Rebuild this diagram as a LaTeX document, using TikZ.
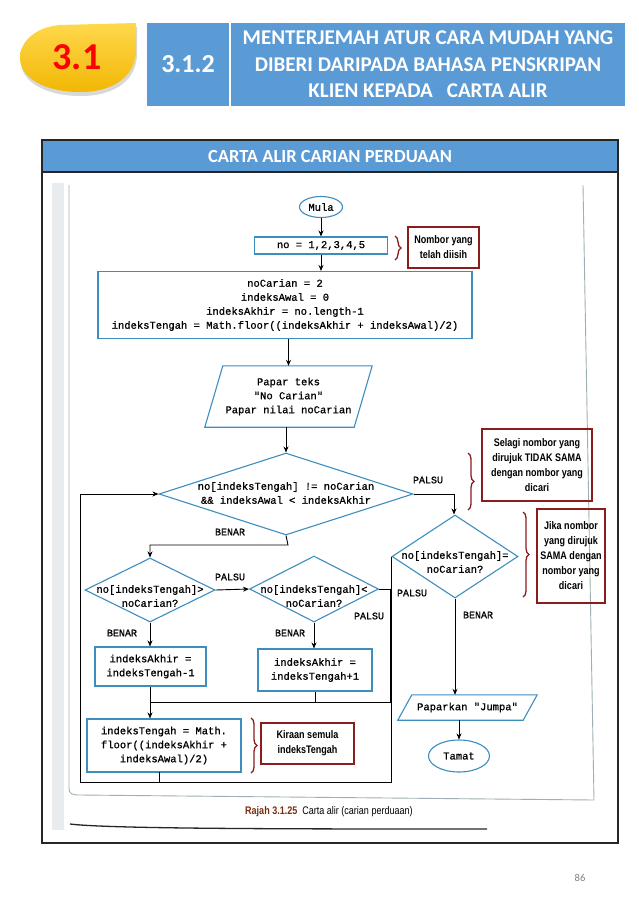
\documentclass[tikz,border=0pt]{standalone}
\usepackage{fontspec}
\setmainfont{Carlito}
\newfontfamily\mono[FakeBold=0.9]{Liberation Mono}
\newfontfamily\cond[FakeStretch=0.82]{Liberation Sans}
\usetikzlibrary{shapes.geometric,arrows.meta,decorations.pathreplacing,calc}
\definecolor{hdrblue}{HTML}{5B9BD5}
\definecolor{fcblue}{HTML}{3E8DBF}
\definecolor{annred}{HTML}{8B1C1C}
\definecolor{capred}{HTML}{7A2E10}
\definecolor{scangray}{HTML}{9FB0B5}
\definecolor{stripgray}{HTML}{E8ECEF}
\definecolor{droptop}{HTML}{FFD84C}
\definecolor{dropbot}{HTML}{F2B705}
\begin{document}
\begin{tikzpicture}[x=1pt,y=-1pt,
  fcline/.style={draw=fcblue, line width=1.1pt},
  mtext/.style={font=\mono\fontsize{10.5}{14}\selectfont},
  proc/.style={fcline, rectangle, inner sep=0pt, align=center, mtext},
  term/.style={fcline, ellipse, inner sep=0pt, mtext},
  dec/.style={fcline, diamond, inner sep=0pt, aspect=1},
  ftext/.style={align=center, inner sep=0pt, mtext},
  lbl/.style={inner sep=0pt, font=\mono\fontsize{10}{11}\selectfont},
  conn/.style={draw=black, line width=0.9pt},
  arr/.style={conn, -{Stealth[length=6pt,width=5pt]}},
  ann/.style={draw=annred, line width=2.4pt, inner sep=0pt, align=center, font=\cond\bfseries\fontsize{11}{15}\selectfont},
  brc/.style={draw=annred, line width=1.3pt, decorate, decoration={brace, amplitude=6pt}},
  hdrbox/.style={fill=hdrblue, inner sep=0pt, text=white, align=center}
]
\path[use as bounding box] (0,0) rectangle (638,922);
\fill[white] (0,0) rectangle (638,922);

% ---------- header ----------
\def\droppath{(136,23) -- (60,25) .. controls (35,27) and (20,42) .. (20,58) .. controls (20,78) and (45,92) .. (80,92) .. controls (115,92) and (136,75) .. (136,50) -- cycle}
\fill[gray, opacity=0.3] [shift={(1,4)}] \droppath;
\shade[top color=droptop, bottom color=dropbot] \droppath;
\node[text=red, font=\bfseries\fontsize{38}{38}\selectfont, inner sep=0pt] (sec) at (77,57) {3.1};
\node[hdrbox, minimum width=82, minimum height=83, font=\bfseries\fontsize{26}{26}\selectfont] (num) at (188,64.5) {3.1.2};
\node[hdrbox, minimum width=394, minimum height=83, font=\bfseries\fontsize{21}{26.5}\selectfont] (title) at (428,64.5)
  {MENTERJEMAH ATUR CARA MUDAH YANG\\DIBERI DARIPADA BAHASA PENSKRIPAN\\KLIEN KEPADA\hspace{14pt}CARTA ALIR};

% ---------- content frame ----------
\fill[hdrblue] (42,140) rectangle (618,172);
\draw[line width=1.2pt, draw=black!85] (42,172) -- (618,172);
\draw[line width=1.2pt, draw=black!85] (42,140) rectangle (618,843);
\node[text=white, font=\bfseries\fontsize{18.5}{18.5}\selectfont, inner sep=0pt] (ctitle) at (330,156) {CARTA ALIR CARIAN PERDUAAN};

% scanned page traces
\fill[stripgray] (52,183) rectangle (64,830);
\draw[scangray, line width=0.9pt] (69,185) -- (69,788) .. controls (69,794) and (72,795) .. (80,795) -- (594,800) -- (583,185);
\draw[black!85, line width=1.3pt] (70,824) .. controls (110,829) and (300,829) .. (487,829);

% ---------- flowchart ----------
\node[term, minimum width=43, minimum height=21] (mula) at (321,207) {Mula};
\node[proc, minimum width=133, minimum height=17] (no) at (321,245.5) {no = 1,2,3,4,5};
\node[proc, minimum width=374, minimum height=67] (init) at (285,305)
  {noCarian = 2\\indeksAwal = 0\\indeksAkhir = no.length-1\\indeksTengah = Math.floor((indeksAkhir + indeksAwal)/2)};
\node[ftext, minimum width=167, minimum height=61] (p1) at (288.5,396.5) {Papar teks\\"No Carian"\\Papar nilai noCarian};
\draw[fcline] ($(p1.north west)+(18,0)$) -- (p1.north east) -- ($(p1.south east)-(18,0)$) -- (p1.south west) -- cycle;

\node[dec, minimum width=254, minimum height=82] (d1) at (286,494) {};
\node[ftext] (d1t) at (286,493) {no[indeksTengah] != noCarian\\\&\& indeksAwal < indeksAkhir};

\node[dec, minimum width=130, minimum height=64] (d2) at (150,590) {};
\node[ftext] (d2t) at (150,596) {no[indeksTengah]>\\noCarian?};
\node[dec, minimum width=129, minimum height=66] (d4) at (314,589) {};
\node[ftext] (d4t) at (314,596) {no[indeksTengah]<\\noCarian?};

\node[proc, minimum width=111, minimum height=39] (b1) at (150.5,666.5) {indeksAkhir =\\indeksTengah-1};
\node[proc, minimum width=114, minimum height=42] (b2) at (315,670) {indeksAkhir =\\indeksTengah+1};
\node[proc, minimum width=154, minimum height=53] (b3) at (164,745.5) {indeksTengah = Math.\\floor((indeksAkhir +\\indeksAwal)/2)};

\node[dec, minimum width=126, minimum height=83] (d3) at (455,556.5) {};
\node[ftext] (d3t) at (455,562) {no[indeksTengah]=\\noCarian?};

\node[ftext, minimum width=139, minimum height=25] (p2) at (467.5,707.5) {Paparkan "Jumpa"};
\draw[fcline] ($(p2.north west)+(14,0)$) -- (p2.north east) -- ($(p2.south east)-(14,0)$) -- (p2.south west) -- cycle;
\node[term, minimum width=61, minimum height=32] (tamat) at (459,756) {Tamat};

% connectors
\draw[arr] (mula) -- (no);
\draw[arr] (no.south) -- (no.south |- init.north);
\draw[arr] (init.south -| p1.north) -- (p1.north);
\draw[arr] (p1.south -| d1.north) -- (d1.north);
\coordinate (bj) at (288,545);
\draw[arr] (d1.south) -- (bj) -- (bj -| d2.north) -- (d2.north);
\draw[arr] (d2.east) -- (d4.west);
\draw[arr] (d2.south) -- (b1.north -| d2.south);
\draw[arr] (d4.south) -- (d4.south |- b2.north);
\coordinate (mR) at (390,702);
\coordinate (mL) at (150,702);
\draw[conn] (d4.east) -- (d4.east -| mR) -- (mR) -- (mL);
\draw[conn] (b1.south -| mL) -- (mL);
\draw[conn] (b2.south) -- (b2.south |- mR);
\draw[arr] (mL) -- (mL |- b3.north);
\coordinate (d1r) at (454,494);
\draw[arr] (d1.east) -- (d1r) -- (d1r |- d3.north);
\coordinate (loopBL) at (80,782);
\draw[arr] (d3.west) -- (d3.west |- loopBL) -- (loopBL) -- (loopBL |- d1.west) -- (d1.west);
\draw[conn] (159,772) -- (159,782);
\draw[arr] (d3.south) -- (d3.south |- p2.north);
\draw[arr] (tamat.north |- p2.south) -- (tamat.north);

% labels
\node[lbl] (l1) at (230,532) {BENAR};
\node[lbl] (l2) at (428,480) {PALSU};
\node[lbl] (l3) at (230,577) {PALSU};
\node[lbl] (l4) at (369,616) {PALSU};
\node[lbl] (l5) at (122,633) {BENAR};
\node[lbl] (l6) at (290,633) {BENAR};
\node[lbl] (l7) at (412,593) {PALSU};
\node[lbl] (l8) at (478,615) {BENAR};

% annotations
\node[ann, minimum width=71, minimum height=41] (a1) at (443.5,247.5) {Nombor yang\\telah diisih};
\draw[brc] (395,236) -- (395,260);
\node[ann, minimum width=110, minimum height=72] (a2) at (537,465) {Selagi nombor yang\\dirujuk TIDAK SAMA\\dengan nombor yang\\dicari};
\draw[brc] (468,453) -- (468,510);
\node[ann, minimum width=68, minimum height=94] (a3) at (571,556) {Jika nombor\\yang dirujuk\\SAMA dengan\\nombor yang\\dicari};
\draw[brc] (523,512) -- (523,597);
\node[ann, minimum width=93, minimum height=41] (a4) at (307.5,743.5) {Kiraan semula\\indeksTengah};
\draw[brc] (251,718) -- (251,773);

% caption and page number
\node[anchor=west, inner sep=0pt, font=\cond\fontsize{11}{11}\selectfont] (cap) at (245,812)
  {\textcolor{capred}{\bfseries Rajah 3.1.25}\hspace{5pt}Carta alir (carian perduaan)};
\node[text=gray, inner sep=0pt, font=\fontsize{10.5}{10.5}\selectfont] (pg) at (580,878) {86};
\end{tikzpicture}
\end{document}
